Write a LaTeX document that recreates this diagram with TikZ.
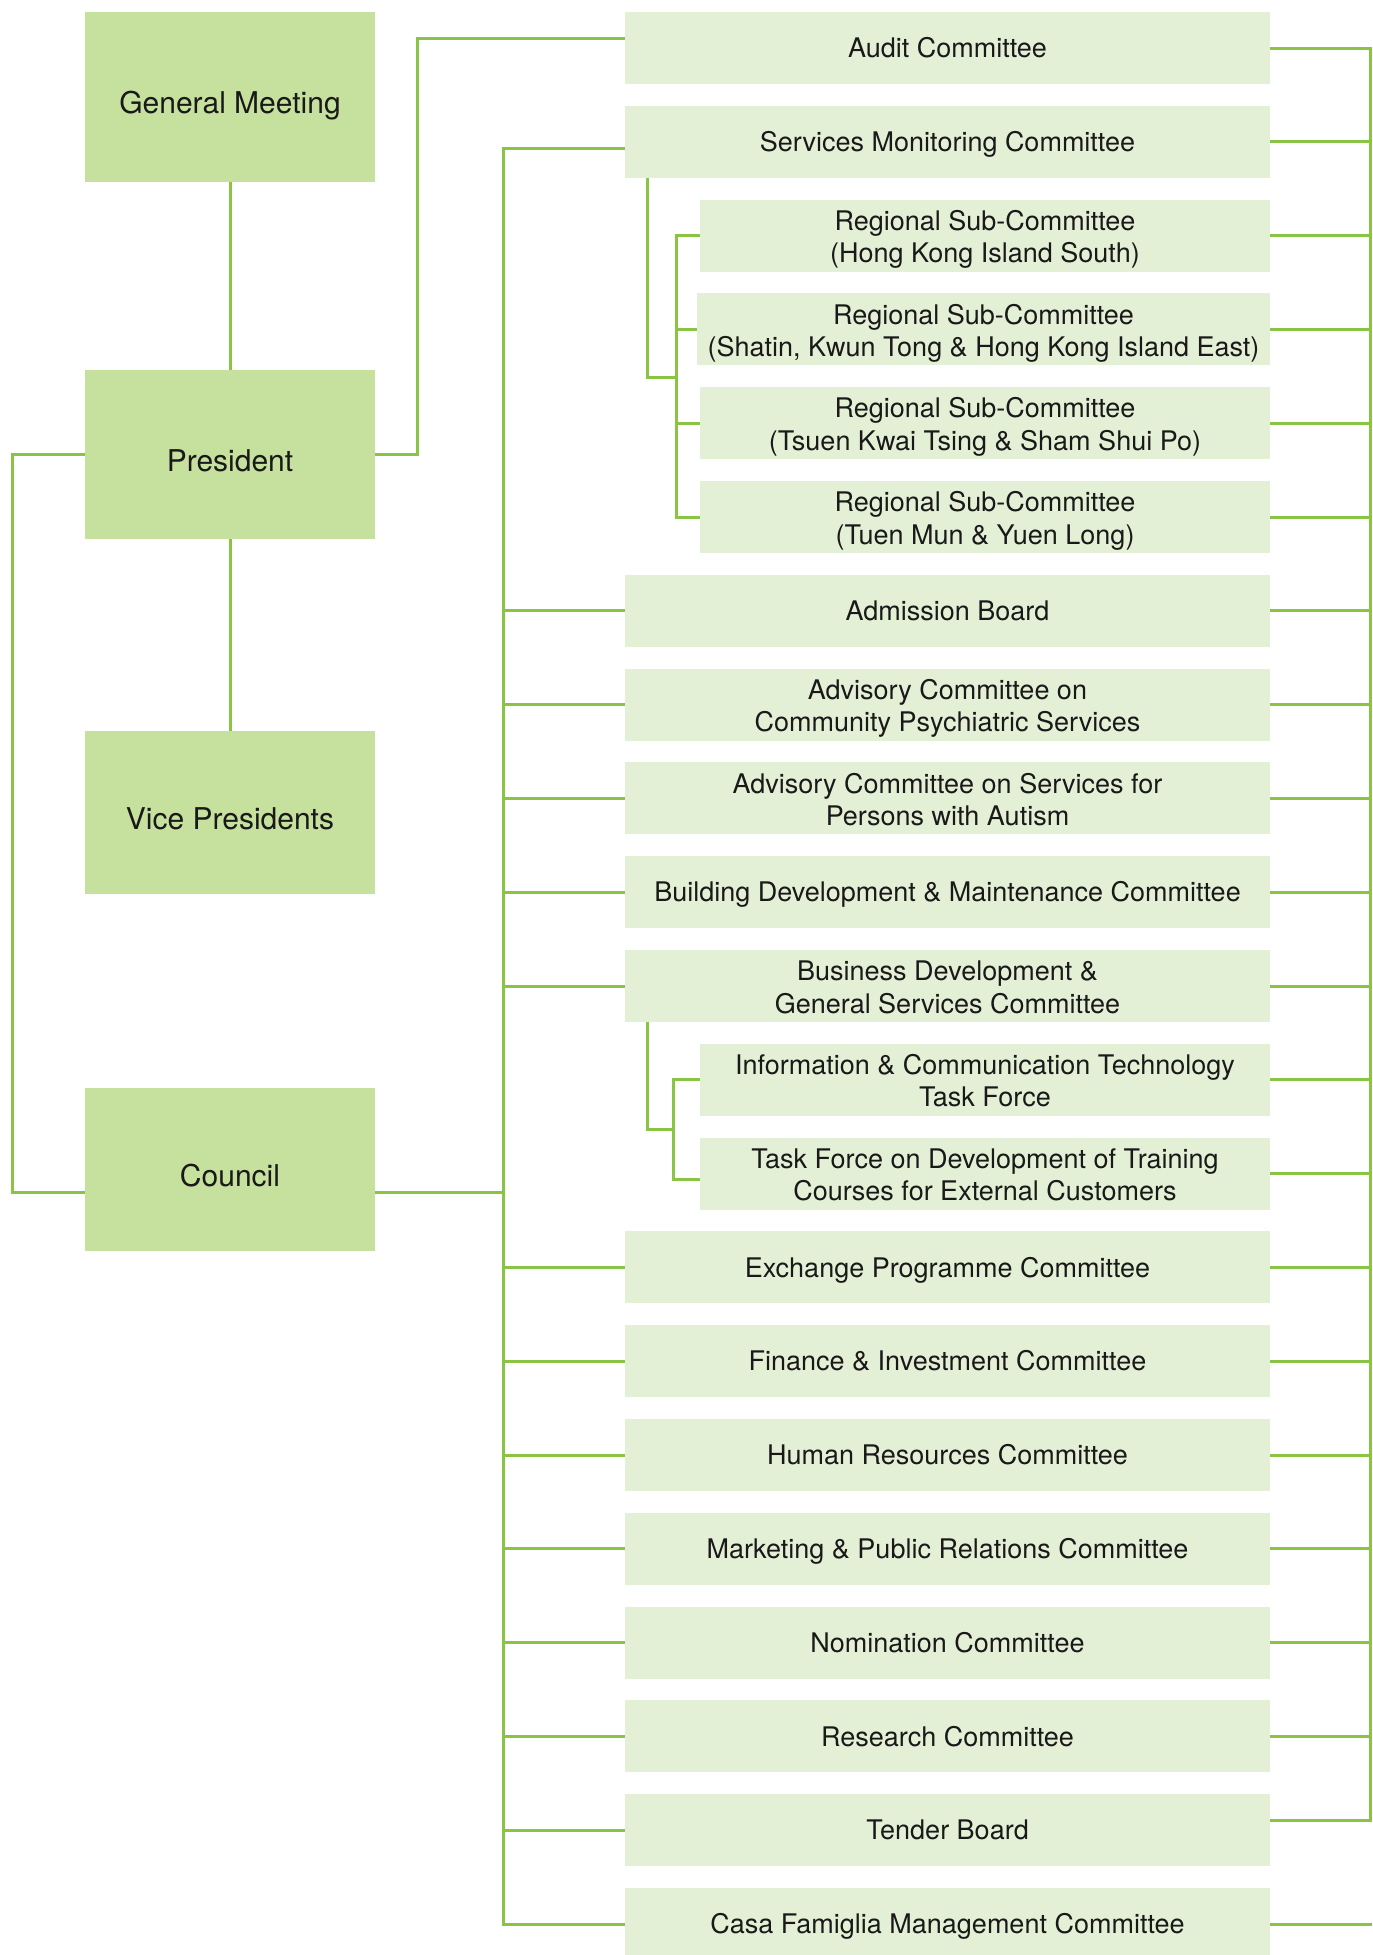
\documentclass[tikz,border=0pt]{standalone}
\usepackage{fontspec}
\setmainfont{TeX Gyre Heros}
\usetikzlibrary{backgrounds}
\definecolor{linegreen}{RGB}{137,196,68}
\definecolor{darkfill}{RGB}{198,224,158}
\definecolor{lightfill}{RGB}{228,240,214}
\definecolor{txt}{RGB}{25,25,25}
\newcommand{\firststrut}{\rule{0pt}{28.5pt}}
\begin{document}
\begin{tikzpicture}[x=1pt,y=-1pt,
  topbox/.style={fill=darkfill, draw=none, minimum width=290pt, inner sep=0pt, text=txt, font=\fontsize{30}{36}\selectfont,
    execute at begin node={\rule[-7pt]{0pt}{47pt}}},
  cbox/.style={fill=lightfill, draw=none, minimum width=645pt, minimum height=72pt, inner sep=0pt, align=center, text=txt, font=\fontsize{27}{32.4}\selectfont,
    execute at begin node={\rule{0pt}{26pt}}, execute at end node={\rule[-6.6pt]{0pt}{0pt}}},
  sbox/.style={cbox, minimum width=570pt},
  conn/.style={draw=linegreen, line width=3pt, line cap=rect}
]
\useasboundingbox (0,0) rectangle (1373,1955);
% left column
\node[topbox, minimum height=170pt] (gm) at (230,97) {General Meeting};
\node[topbox, minimum height=169pt] (pres) at (230,454.5) {President};
\node[topbox, minimum height=163pt] (vp) at (230,812.5) {Vice Presidents};
\node[topbox, minimum height=163pt] (council) at (230,1169.5) {Council};
% committees
\node[cbox] (audit) at (947.5,48) {Audit Committee};
\node[cbox] (smc) at (947.5,141.8) {Services Monitoring Committee};
\node[sbox] (hkis) at (985,235.6) {\firststrut Regional Sub-Committee\\(Hong Kong Island South)};
\node[sbox, minimum width=573pt] (shatin) at (983.5,329.4) {\firststrut Regional Sub-Committee\\(Shatin, Kwun Tong \& Hong Kong Island East)};
\node[sbox] (tsuen) at (985,423.2) {\firststrut Regional Sub-Committee\\(Tsuen Kwai Tsing \& Sham Shui Po)};
\node[sbox] (tuen) at (985,517) {\firststrut Regional Sub-Committee\\(Tuen Mun \& Yuen Long)};
\node[cbox] (adm) at (947.5,610.8) {Admission Board};
\node[cbox] (accps) at (947.5,704.6) {\firststrut Advisory Committee on\\Community Psychiatric Services};
\node[cbox] (autism) at (947.5,798.4) {\firststrut Advisory Committee on Services for\\Persons with Autism};
\node[cbox] (build) at (947.5,892.2) {Building Development \& Maintenance Committee};
\node[cbox] (busi) at (947.5,986) {\firststrut Business Development \&\\General Services Committee};
\node[sbox] (ict) at (985,1079.8) {\firststrut Information \& Communication Technology\\Task Force};
\node[sbox] (tf) at (985,1173.6) {\firststrut Task Force on Development of Training\\Courses for External Customers};
\node[cbox] (exch) at (947.5,1267.4) {Exchange Programme Committee};
\node[cbox] (fin) at (947.5,1361.2) {Finance \& Investment Committee};
\node[cbox] (hr) at (947.5,1455) {Human Resources Committee};
\node[cbox] (mkt) at (947.5,1548.8) {Marketing \& Public Relations Committee};
\node[cbox] (nom) at (947.5,1642.6) {Nomination Committee};
\node[cbox] (res) at (947.5,1736.4) {Research Committee};
\node[cbox] (tender) at (947.5,1830.2) {Tender Board};
\node[cbox] (casa) at (947.5,1924) {Casa Famiglia Management Committee};
% helper coordinates
\coordinate (lx) at (12,0);
\coordinate (px) at (417,0);
\coordinate (lbus) at (503,0);
\coordinate (rbus) at (1370,0);
\coordinate (sd) at (647,377);
\coordinate (sb) at (676,0);
\coordinate (bd) at (647,1129);
\coordinate (bb) at (673,0);
\coordinate (aw) at ([yshift=10pt]audit.west);
\coordinate (sw) at ([yshift=-7pt]smc.west);
\coordinate (tw) at ([yshift=-6pt]tf.west);
\coordinate (cw) at ([yshift=-23pt]council.west);
\coordinate (ce) at ([yshift=-23pt]council.east);
\coordinate (te) at ([yshift=10pt]tender.east);
\begin{scope}[on background layer]
% left column links
\draw[conn] (gm.south) -- (pres.north);
\draw[conn] (pres.south) -- (vp.north);
\draw[conn] (pres.west) -- (pres.west -| lx) -- (cw -| lx) -- (cw);
\draw[conn] (pres.east) -- (pres.east -| px) -- (aw -| px) -- (aw);
\draw[conn] (ce) -- (ce -| lbus);
% left bus
\draw[conn] (sw -| lbus) -- (casa.west -| lbus);
\draw[conn] (sw) -- (sw -| lbus);
\foreach \n in {adm,accps,autism,build,busi,exch,fin,hr,mkt,nom,res,tender,casa}
  \draw[conn] (\n.west) -- (\n.west -| lbus);
% services monitoring sub-committees
\draw[conn] (smc.south -| sd) -- (sd) -- (sd -| sb);
\draw[conn] (hkis.west -| sb) -- (tuen.west -| sb);
\foreach \n in {hkis,shatin,tsuen,tuen}
  \draw[conn] (\n.west) -- (\n.west -| sb);
% business development task forces
\draw[conn] (busi.south -| bd) -- (bd) -- (bd -| bb);
\draw[conn] (ict.west -| bb) -- (tw -| bb);
\draw[conn] (ict.west) -- (ict.west -| bb);
\draw[conn] (tw) -- (tw -| bb);
% right bus
\draw[conn] (audit.east -| rbus) -- (te -| rbus);
\foreach \n in {audit,smc,hkis,shatin,tsuen,tuen,adm,accps,autism,build,busi,ict,tf,exch,fin,hr,mkt,nom,res,casa}
  \draw[conn] (\n.east) -- (\n.east -| rbus);
\draw[conn] (te) -- (te -| rbus);
\end{scope}
\end{tikzpicture}
\end{document}
